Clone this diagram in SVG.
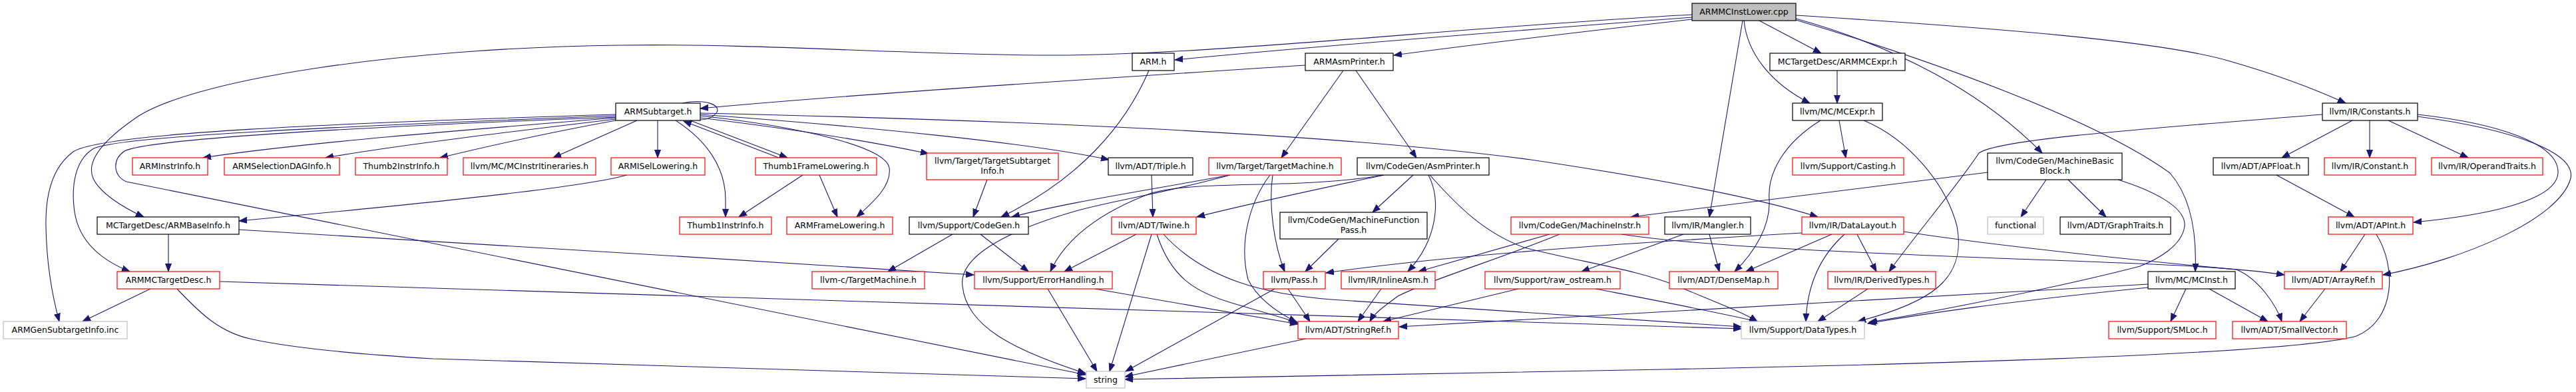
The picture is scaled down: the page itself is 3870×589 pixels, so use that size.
<svg xmlns="http://www.w3.org/2000/svg" width="3870" height="589" viewBox="0 0 3870 589">
<style>
text{font-family:"DejaVu Sans","Liberation Sans",sans-serif;font-size:12.5px;fill:#000;text-anchor:middle}
rect{fill:#fff;stroke-width:1.2}
.b{stroke:#000}.r{stroke:#ff0000}.g{stroke:#bfbfbf}.root{fill:#bfbfbf;stroke:#000}
.e path{fill:none;stroke:#191970;stroke-width:1.1;marker-end:url(#a)}
.e path.nl{marker-end:none}
</style>
<defs>
<marker id="a" markerUnits="userSpaceOnUse" markerWidth="13" markerHeight="10" refX="12" refY="5" orient="auto"><path d="M0,0.5 L12,5 L0,9.5 z" fill="#191970" stroke="#191970" stroke-width="1"/></marker>
</defs>
<rect x="0" y="0" width="3870" height="589" style="fill:#fff;stroke:none"/>
<g id="edges" class="e">
<path d="M2542,26 C2250,48 1950,72 1765,90"/>
<path d="M2542,29 C2400,45 2230,65 2094,83"/>
<path d="M2542,22 C2200,40 1800,85 1570,83 C1350,82 1150,65 930,68 C600,72 280,120 200,180 C150,215 130,245 140,268 C150,290 185,312 216,326"/>
<path d="M2643,31 L2736,80"/>
<path d="M2620,31 C2625,80 2660,125 2719,155"/>
<path d="M2618,31 L2568,326"/>
<path d="M2698,28 C2850,70 2980,140 3068,230"/>
<path d="M2698,30 C2900,90 3150,180 3260,260 C3295,300 3300,360 3298,408"/>
<path d="M2698,23 C3000,42 3250,62 3350,92 C3420,112 3480,135 3524,155"/>
<path d="M1726,106 C1690,190 1620,270 1504,326"/>
<path d="M1961,98 C1700,115 1300,140 1052,163"/>
<path d="M2018,106 L1925,237"/>
<path d="M2037,106 L2128,237"/>
<path d="M2760,106 L2760,155"/>
<path d="M2763,181 L2773,237"/>
<path d="M2735,181 C2680,215 2655,260 2658,300 C2660,340 2635,380 2606,408"/>
<path d="M2800,181 C2870,210 2925,280 2940,340 C2955,420 2900,455 2791,483"/>
<path d="M3534,181 L3428,237"/>
<path d="M3560,181 L3560,237"/>
<path d="M3588,181 L3708,237"/>
<path d="M3632,172 C3750,185 3845,215 3843,260 C3840,305 3720,325 3626,334"/>
<path d="M3632,175 C3780,195 3870,230 3862,268 C3845,330 3700,390 3580,413"/>
<path d="M3489,172 C3200,195 3000,210 2973,230 C2940,280 2880,350 2838,408"/>
<path d="M925,172 C500,185 150,200 110,228 C80,250 68,290 69,340 C70,400 80,450 89,483"/>
<path d="M925,174 C500,190 180,205 141,223 C112,240 108,280 111,310 C115,360 150,390 195,408"/>
<path d="M925,176 C500,192 220,210 187,227 C168,240 170,265 190,273 L1631,563"/>
<path d="M925,177 C700,195 450,215 305,237"/>
<path d="M925,179 C750,200 600,218 489,237"/>
<path d="M925,181 C820,200 740,218 661,237"/>
<path d="M957,181 L831,237"/>
<path d="M988,181 L988,237"/>
<path d="M1037,181 L1183,237"/>
<path d="M1170,237 L1027,182"/>
<path d="M1015,181 C1060,210 1090,250 1090,300 L1090,326"/>
<path d="M1052,174 C1200,190 1330,220 1336,252 C1340,280 1310,305 1287,326"/>
<path d="M1052,177 C1200,195 1320,215 1395,231"/>
<path d="M1052,172 C1300,190 1550,215 1666,240"/>
<path d="M1052,170 C1500,180 2000,200 2300,240 C2500,270 2650,300 2731,326"/>
<path class="nl" d="M1025,155 C1060,148 1085,158 1076,170 C1069,178 1060,180 1052,180"/>
<path d="M942,263 C880,280 700,300 359,332"/>
<path d="M1206,263 L1110,326"/>
<path d="M1231,263 L1258,326"/>
<path d="M1483,270 L1462,326"/>
<path d="M1730,263 L1732,326"/>
<path d="M1848,263 C1700,290 1600,305 1520,326"/>
<path d="M1848,263 C1750,290 1680,300 1620,316 C1500,350 1440,390 1446,430 C1452,490 1520,525 1631,561"/>
<path d="M1908,263 C1880,300 1860,360 1875,420 C1890,450 1920,470 1948,484"/>
<path d="M1912,263 C1905,310 1915,370 1930,408"/>
<path d="M2123,263 L2062,319"/>
<path d="M2146,263 C2165,300 2160,360 2115,408"/>
<path d="M2148,263 C2190,310 2230,350 2290,372 C2380,395 2460,405 2520,430 C2580,455 2620,470 2640,483"/>
<path d="M2079,263 C2000,280 1880,305 1798,326"/>
<path d="M2079,263 C1950,285 1800,270 1730,290 C1650,320 1600,360 1578,408"/>
<path d="M253,352 L253,408"/>
<path d="M358,345 C700,365 1100,390 1463,413"/>
<path d="M226,434 L124,483"/>
<path d="M330,423 L2616,494"/>
<path d="M266,434 C300,470 330,500 380,510 C450,525 550,533 650,539 L1631,569"/>
<path d="M1431,352 L1334,408"/>
<path d="M1473,352 L1545,408"/>
<path d="M1707,352 L1599,408"/>
<path d="M1730,352 L1667,558"/>
<path d="M1738,352 C1760,420 1800,440 1850,455 C1890,467 1920,475 1950,485"/>
<path d="M1748,352 C1810,420 1900,442 2000,450 L2616,491"/>
<path d="M1574,434 L1648,558"/>
<path d="M1645,434 L1950,487"/>
<path d="M2011,359 L1961,408"/>
<path d="M1915,434 L1691,558"/>
<path d="M1935,434 L1968,483"/>
<path d="M2075,434 L2040,483"/>
<path d="M2281,434 L2078,483"/>
<path d="M2397,434 C2480,450 2560,465 2640,483"/>
<path d="M2328,352 L2131,408"/>
<path d="M2343,352 C2250,390 2150,420 2100,445 C2080,460 2065,470 2058,483"/>
<path d="M2436,352 C2550,370 2800,380 3000,388 C3200,395 3350,400 3432,413"/>
<path d="M2529,352 L2376,408"/>
<path d="M2568,352 L2583,408"/>
<path d="M2986,259 L2450,326"/>
<path d="M3074,270 L3036,326"/>
<path d="M3107,270 L3164,326"/>
<path d="M3182,270 C3230,285 3285,310 3282,340 C3278,370 3240,390 3215,400 C3100,430 2900,470 2808,484"/>
<path d="M2707,350 C2500,362 2200,380 1992,410"/>
<path d="M2752,352 L2623,408"/>
<path d="M2771,352 C2740,380 2715,420 2713,483"/>
<path d="M2790,352 L2819,408"/>
<path d="M2860,348 C3000,370 3250,395 3360,405 C3395,420 3420,460 3428,483"/>
<path d="M2806,434 L2731,483"/>
<path d="M3553,352 L3516,408"/>
<path d="M3570,352 C3600,400 3600,480 3540,505 C3450,530 3000,545 2500,555 L1690,570"/>
<path d="M3420,263 L3537,326"/>
<path d="M3493,434 L3455,483"/>
<path d="M3284,434 L3261,483"/>
<path d="M3319,434 L3407,483"/>
<path d="M3227,427 L2102,491"/>
<path d="M3227,432 C3000,455 2900,470 2806,486"/>
<path d="M1962,509 L1690,566"/>
</g>
<g id="n_root"><rect class="root" x="2542" y="5" width="156" height="26"/><text x="2620" y="22">ARMMCInstLower.cpp</text></g>
<g id="n_arm"><rect class="b" x="1701" y="80" width="63" height="26"/><text x="1732.5" y="97">ARM.h</text></g>
<g id="n_armasmprinter"><rect class="b" x="1961" y="80" width="132" height="26"/><text x="2027" y="97">ARMAsmPrinter.h</text></g>
<g id="n_armmcexpr"><rect class="b" x="2659" y="80" width="203" height="26"/><text x="2760.5" y="97">MCTargetDesc/ARMMCExpr.h</text></g>
<g id="n_armsubtarget"><rect class="b" x="925" y="155" width="127" height="26"/><text x="988.5" y="172">ARMSubtarget.h</text></g>
<g id="n_mcexpr"><rect class="b" x="2693" y="155" width="135" height="26"/><text x="2760.5" y="172">llvm/MC/MCExpr.h</text></g>
<g id="n_constants"><rect class="b" x="3489" y="155" width="143" height="26"/><text x="3560.5" y="172">llvm/IR/Constants.h</text></g>
<g id="n_arminstrinfo"><rect class="r" x="199" y="237" width="113" height="26"/><text x="255.5" y="254">ARMInstrInfo.h</text></g>
<g id="n_armseldag"><rect class="r" x="337" y="237" width="173" height="26"/><text x="423.5" y="254">ARMSelectionDAGInfo.h</text></g>
<g id="n_thumb2ii"><rect class="r" x="534" y="237" width="138" height="26"/><text x="603" y="254">Thumb2InstrInfo.h</text></g>
<g id="n_mcitin"><rect class="r" x="696" y="237" width="199" height="26"/><text x="795.5" y="254">llvm/MC/MCInstrItineraries.h</text></g>
<g id="n_armisel"><rect class="r" x="918" y="237" width="141" height="26"/><text x="988.5" y="254">ARMISelLowering.h</text></g>
<g id="n_thumb1fl"><rect class="r" x="1135" y="237" width="182" height="26"/><text x="1226" y="254">Thumb1FrameLowering.h</text></g>
<g id="n_tsi"><rect class="r" x="1392" y="230" width="198" height="40"/><text x="1491" y="246">llvm/Target/TargetSubtarget</text><text x="1491" y="261">Info.h</text></g>
<g id="n_triple"><rect class="b" x="1665" y="237" width="127" height="26"/><text x="1728.5" y="254">llvm/ADT/Triple.h</text></g>
<g id="n_targetmachine"><rect class="r" x="1816" y="237" width="199" height="26"/><text x="1915.5" y="254">llvm/Target/TargetMachine.h</text></g>
<g id="n_asmprinter"><rect class="b" x="2039" y="237" width="198" height="26"/><text x="2138" y="254">llvm/CodeGen/AsmPrinter.h</text></g>
<g id="n_casting"><rect class="r" x="2693" y="237" width="167" height="26"/><text x="2776.5" y="254">llvm/Support/Casting.h</text></g>
<g id="n_mbb"><rect class="b" x="2986" y="230" width="202" height="40"/><text x="3087" y="246">llvm/CodeGen/MachineBasic</text><text x="3087" y="261">Block.h</text></g>
<g id="n_apfloat"><rect class="b" x="3325" y="237" width="143" height="26"/><text x="3396.5" y="254">llvm/ADT/APFloat.h</text></g>
<g id="n_constant"><rect class="r" x="3492" y="237" width="137" height="26"/><text x="3560.5" y="254">llvm/IR/Constant.h</text></g>
<g id="n_operandtraits"><rect class="r" x="3653" y="237" width="167" height="26"/><text x="3736.5" y="254">llvm/IR/OperandTraits.h</text></g>
<g id="n_armbaseinfo"><rect class="b" x="146" y="326" width="213" height="26"/><text x="252.5" y="343">MCTargetDesc/ARMBaseInfo.h</text></g>
<g id="n_thumb1ii"><rect class="r" x="1021" y="326" width="138" height="26"/><text x="1090" y="343">Thumb1InstrInfo.h</text></g>
<g id="n_armfl"><rect class="r" x="1182" y="326" width="159" height="26"/><text x="1261.5" y="343">ARMFrameLowering.h</text></g>
<g id="n_codegen"><rect class="b" x="1366" y="326" width="179" height="26"/><text x="1455.5" y="343">llvm/Support/CodeGen.h</text></g>
<g id="n_twine"><rect class="r" x="1670" y="326" width="127" height="26"/><text x="1733.5" y="343">llvm/ADT/Twine.h</text></g>
<g id="n_mfp"><rect class="b" x="1923" y="319" width="221" height="40"/><text x="2033.5" y="335">llvm/CodeGen/MachineFunction</text><text x="2033.5" y="350">Pass.h</text></g>
<g id="n_machineinstr"><rect class="r" x="2270" y="326" width="207" height="26"/><text x="2373.5" y="343">llvm/CodeGen/MachineInstr.h</text></g>
<g id="n_mangler"><rect class="b" x="2501" y="326" width="129" height="26"/><text x="2565.5" y="343">llvm/IR/Mangler.h</text></g>
<g id="n_datalayout"><rect class="r" x="2707" y="326" width="153" height="26"/><text x="2783.5" y="343">llvm/IR/DataLayout.h</text></g>
<g id="n_functional"><rect class="g" x="2986" y="326" width="84" height="26"/><text x="3028" y="343">functional</text></g>
<g id="n_graphtraits"><rect class="b" x="3095" y="326" width="166" height="26"/><text x="3178" y="343">llvm/ADT/GraphTraits.h</text></g>
<g id="n_apint"><rect class="r" x="3498" y="326" width="127" height="26"/><text x="3561.5" y="343">llvm/ADT/APInt.h</text></g>
<g id="n_armmctd"><rect class="r" x="176" y="408" width="154" height="26"/><text x="253" y="425">ARMMCTargetDesc.h</text></g>
<g id="n_llvmctm"><rect class="r" x="1220" y="408" width="169" height="26"/><text x="1304.5" y="425">llvm-c/TargetMachine.h</text></g>
<g id="n_errorhandling"><rect class="r" x="1464" y="408" width="207" height="26"/><text x="1567.5" y="425">llvm/Support/ErrorHandling.h</text></g>
<g id="n_pass"><rect class="r" x="1898" y="408" width="93" height="26"/><text x="1944.5" y="425">llvm/Pass.h</text></g>
<g id="n_inlineasm"><rect class="r" x="2015" y="408" width="141" height="26"/><text x="2085.5" y="425">llvm/IR/InlineAsm.h</text></g>
<g id="n_rawostream"><rect class="r" x="2231" y="408" width="203" height="26"/><text x="2332.5" y="425">llvm/Support/raw_ostream.h</text></g>
<g id="n_densemap"><rect class="r" x="2508" y="408" width="163" height="26"/><text x="2589.5" y="425">llvm/ADT/DenseMap.h</text></g>
<g id="n_derivedtypes"><rect class="r" x="2746" y="408" width="162" height="26"/><text x="2827" y="425">llvm/IR/DerivedTypes.h</text></g>
<g id="n_mcinst"><rect class="b" x="3227" y="408" width="131" height="26"/><text x="3292.5" y="425">llvm/MC/MCInst.h</text></g>
<g id="n_arrayref"><rect class="r" x="3432" y="408" width="147" height="26"/><text x="3505.5" y="425">llvm/ADT/ArrayRef.h</text></g>
<g id="n_armgensti"><rect class="g" x="5" y="483" width="186" height="26"/><text x="98" y="500">ARMGenSubtargetInfo.inc</text></g>
<g id="n_stringref"><rect class="r" x="1950" y="483" width="151" height="26"/><text x="2025.5" y="500">llvm/ADT/StringRef.h</text></g>
<g id="n_datatypes"><rect class="g" x="2616" y="483" width="185" height="26"/><text x="2708.5" y="500">llvm/Support/DataTypes.h</text></g>
<g id="n_smloc"><rect class="r" x="3168" y="483" width="161" height="26"/><text x="3248.5" y="500">llvm/Support/SMLoc.h</text></g>
<g id="n_smallvector"><rect class="r" x="3354" y="483" width="171" height="26"/><text x="3439.5" y="500">llvm/ADT/SmallVector.h</text></g>
<g id="n_string"><rect class="g" x="1632" y="558" width="58" height="25"/><text x="1661" y="575">string</text></g>
</svg>
